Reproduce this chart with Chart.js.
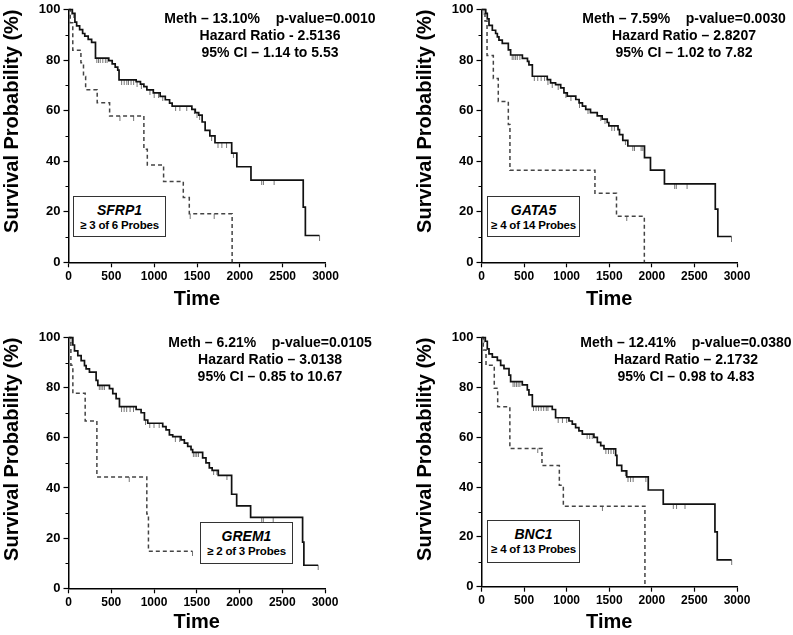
<!DOCTYPE html>
<html>
<head>
<meta charset="utf-8">
<script src="https://cdn.jsdelivr.net/npm/chart.js@4.4.0/dist/chart.umd.min.js"></script>
<style>
  body { margin: 0; width: 793px; height: 635px; overflow: hidden; background: #fff; font-family: "Liberation Sans", Arial, sans-serif; }
  canvas { position: absolute; }
  .stats { position: absolute; width: 260px; text-align: center; font-weight: bold; font-size: 14px; line-height: 17px; white-space: pre; color: #000; }
  .gene { position: absolute; width: 91px; border: 1px solid #333; background: #fff; text-align: center; font-weight: bold; color: #000; white-space: nowrap; }
  .gene i { display: block; font-size: 14px; line-height: 16px; padding-top: 5px; }
  .gene span { display: block; font-size: 11.5px; line-height: 14px; letter-spacing: -0.2px; }
</style>
</head>
<body>
<canvas id="c1" width="396" height="311" style="left:0;top:0"></canvas>
<canvas id="c2" width="380" height="311" style="left:413px;top:0"></canvas>
<canvas id="c3" width="396" height="306" style="left:0;top:328px"></canvas>
<canvas id="c4" width="380" height="306" style="left:413px;top:328px"></canvas>

<div class="stats" style="left:140px;top:10px">Meth – 13.10%    p-value=0.0010
Hazard Ratio - 2.5136
95% CI – 1.14 to 5.53</div>
<div class="stats" style="left:554px;top:10px">Meth – 7.59%    p-value=0.0030
Hazard Ratio – 2.8207
95% CI – 1.02 to 7.82</div>
<div class="stats" style="left:140px;top:334px">Meth – 6.21%    p-value=0.0105
Hazard Ratio – 3.0138
95% CI – 0.85 to 10.67</div>
<div class="stats" style="left:556px;top:334px">Meth – 12.41%    p-value=0.0380
Hazard Ratio – 2.1732
95% CI – 0.98 to 4.83</div>

<div class="gene" style="left:73px;top:196px;height:39px"><i>SFRP1</i><span>≥ 3 of 6 Probes</span></div>
<div class="gene" style="left:487px;top:196px;height:39px"><i>GATA5</i><span>≥ 4 of 14 Probes</span></div>
<div class="gene" style="left:200px;top:522px;height:40px"><i>GREM1</i><span>≥ 2 of 3 Probes</span></div>
<div class="gene" style="left:487px;top:520px;height:41px"><i>BNC1</i><span>≥ 4 of 13 Probes</span></div>

<script>
// axis ticks
const xTicks = [0, 500, 1000, 1500, 2000, 2500, 3000];
const yTicks = [0, 20, 40, 60, 80, 100];
const yMinorTicks = [10, 30, 50, 70, 90];

// Kaplan-Meier steps: [time, survival %] (last point = end of follow-up)
const sfrp1Unmeth = [[0,100],[45,98.5],[75,95],[95,93.5],[130,92],[165,90.5],[190,89.5],[230,88.2],[270,87],[315,80.8],[470,79.8],[510,78.5],[545,77.2],[575,76],[590,72.2],[790,71.5],[840,70.5],[880,69.5],[915,68.2],[990,67],[1070,65.6],[1130,64.3],[1180,63],[1210,61.8],[1440,60.5],[1480,59.2],[1520,58.2],[1560,55.5],[1595,52.2],[1650,50],[1710,47.3],[1905,43.2],[1965,37.8],[2130,32.5],[2740,21.8],[2765,10.6],[2930,10.6]];
const sfrp1Meth = [[0,100],[20,94.8],[50,83.9],[145,78.9],[175,73.5],[200,68.3],[335,63.1],[480,57.9],[880,44.7],[920,38.5],[1110,32],[1340,25.6],[1410,19.2],[1910,0]];
const sfrp1UnmethCens = [40,60,330,350,370,400,430,450,620,650,680,700,730,760,800,850,950,1000,1050,1100,1250,1300,1380,1470,1500,1530,1670,1745,1790,1845,1925,2255,2275,2400,2930];
const sfrp1MethCens = [600,760,1420,1700];

const gata5Unmeth = [[0,100],[50,98.5],[68,96.3],[88,93.7],[127,91.8],[166,90.5],[186,89.2],[205,87.9],[244,86.6],[315,84],[342,82],[480,80.7],[540,79.5],[557,78.1],[597,73.6],[772,72.3],[811,71],[870,70.3],[930,69],[968,67],[1007,65.7],[1107,64.4],[1146,63.1],[1185,61.8],[1224,60.5],[1280,59.2],[1359,57.9],[1417,56.6],[1476,55.3],[1495,54],[1603,52.5],[1620,50.5],[1659,48.2],[1718,46],[1914,41.4],[1984,36.5],[2148,31],[2745,21],[2775,10.2],[2935,10.2]];
const gata5Meth = [[0,100],[41,95.5],[65,81.8],[139,72.7],[197,63.6],[315,54.5],[334,36.4],[1332,27.3],[1585,18.2],[1912,0]];
const gata5UnmethCens = [30,360,380,400,420,450,620,660,700,740,780,830,900,990,1050,1150,1250,1400,1450,1530,1560,1690,1776,1796,1874,1894,2268,2287,2413,2935];
const gata5MethCens = [1705];

const grem1Unmeth = [[0,100],[51,97],[70,94.7],[109,92.8],[148,90.8],[187,88.8],[206,87.5],[245,86.2],[323,82.9],[343,80.9],[479,79.6],[518,77.6],[557,75.6],[596,72.4],[791,71.3],[849,70],[888,67.1],[927,65.8],[1102,64.5],[1141,63.2],[1180,61.2],[1219,60.5],[1316,59.2],[1355,57.9],[1394,56.6],[1433,55.3],[1452,54.2],[1569,52],[1608,50],[1647,48],[1680,47],[1752,45],[1908,37.5],[1967,32.9],[2130,28.3],[2738,18.4],[2753,9.2],[2920,9.2]];
const grem1Meth = [[0,100],[28,88.9],[51,77.8],[195,66.7],[332,44.4],[916,29.6],[935,14.8],[1450,14.8]];
const grem1UnmethCens = [30,360,380,400,420,620,650,680,720,760,900,950,1000,1060,1250,1300,1460,1480,1500,1520,1697,1736,1853,2259,2278,2394,2920];
const grem1MethCens = [710,1450];

const bnc1Unmeth = [[0,100],[45,98.5],[68,95.4],[88,93.4],[127,92.1],[186,90.8],[225,88.8],[264,87.5],[323,84.9],[342,82.3],[479,81],[538,79],[557,77],[597,72.4],[831,71.1],[870,67.8],[1027,66.5],[1066,65.2],[1105,63.8],[1144,62.5],[1184,61.2],[1320,59.9],[1360,57.9],[1400,56.6],[1438,55.3],[1575,52.7],[1590,48.7],[1646,46.5],[1705,44.1],[1958,38.8],[2134,33.1],[2741,22],[2768,10.8],[2937,10.8]];
const bnc1Meth = [[0,100],[21,95],[53,88.9],[150,79.6],[190,72.2],[333,55.5],[710,48.6],[914,40.7],[961,32.3],[1919,0]];
const bnc1UnmethCens = [30,370,390,410,430,450,610,640,670,700,730,760,780,900,950,1000,1240,1270,1300,1460,1490,1520,1550,1690,1720,1750,1780,1930,2252,2290,2389,2937];
const bnc1MethCens = [660,1420];

// survival value of a step curve at time t
function survAt(curve, t) {
  let s = curve[0][1];
  curve.forEach(([ti, si]) => { if (ti <= t) s = si; });
  return s;
}

// censor mark: short line hanging below the curve
function censorMark(color) {
  const c = document.createElement("canvas");
  c.width = 3;
  c.height = 10;
  const g = c.getContext("2d");
  g.strokeStyle = color;
  g.lineWidth = 1;
  g.beginPath();
  g.moveTo(1.5, 5);
  g.lineTo(1.5, 10);
  g.stroke();
  return c;
}

const minorTicks = {
  id: "minorTicks",
  afterDraw(chart) {
    const { ctx, chartArea, scales } = chart;
    ctx.save();
    ctx.strokeStyle = "#000";
    ctx.lineWidth = 1;
    yMinorTicks.forEach((v) => {
      const y = Math.round(scales.y.getPixelForValue(v)) + 0.5;
      ctx.beginPath();
      ctx.moveTo(chartArea.left - 3, y);
      ctx.lineTo(chartArea.left, y);
      ctx.stroke();
    });
    ctx.restore();
  },
};

function makePanel(id, unmeth, meth, unmethCens, methCens, box) {
  const toXY = (c) => c.map(([x, y]) => ({ x, y }));
  const cens = (curve, times) => times.map((t) => ({ x: t, y: survAt(curve, t) }));
  const font = (size) => ({ family: "'Liberation Sans', Arial, sans-serif", size, weight: "bold", lineHeight: 1 });

  new Chart(document.getElementById(id), {
    type: "line",
    data: {
      datasets: [
        { data: toXY(unmeth), stepped: true, borderColor: "#111", borderWidth: 1.7, pointRadius: 0, clip: false },
        { data: toXY(meth), stepped: true, borderColor: "#444", borderWidth: 1.5, borderDash: [4, 3], pointRadius: 0, clip: false },
        { data: cens(unmeth, unmethCens), showLine: false, pointStyle: censorMark("#777"), pointRadius: 3, clip: false },
        { data: cens(meth, methCens), showLine: false, pointStyle: censorMark("#777"), pointRadius: 3, clip: false },
      ],
    },
    options: {
      responsive: false,
      animation: false,
      events: [],
      layout: { padding: { left: 0, top: box.top, right: box.right, bottom: 0 } },
      plugins: { legend: { display: false }, tooltip: { enabled: false } },
      scales: {
        x: {
          type: "linear",
          min: 0,
          max: 3000,
          afterBuildTicks: (s) => { s.ticks = xTicks.map((v) => ({ value: v })); },
          afterFit: (s) => { s.height = box.xh; },
          ticks: { font: font(12), color: "#000", padding: 3, maxRotation: 0, callback: (v) => String(v) },
          grid: { drawOnChartArea: false, tickLength: 5, color: "#000", tickWidth: 1.2 },
          border: { color: "#000", width: 1.5 },
          title: { display: true, text: "Time", color: "#000", padding: 0, font: { family: "'Liberation Sans', Arial, sans-serif", size: 20, weight: "bold" } },
        },
        y: {
          min: 0,
          max: 100,
          afterBuildTicks: (s) => { s.ticks = yTicks.map((v) => ({ value: v })); },
          afterFit: (s) => { s.width = 68.5; },
          ticks: { font: font(13), color: "#000", padding: 3, callback: (v) => String(v) },
          grid: { drawOnChartArea: false, tickLength: 5, color: "#000", tickWidth: 1.2 },
          border: { color: "#000", width: 1.5 },
          title: { display: true, text: "Survival Probability (%)", align: "end", color: "#000", padding: 0, font: { family: "'Liberation Sans', Arial, sans-serif", size: 20, weight: "bold" } },
        },
      },
    },
    plugins: [minorTicks],
  });
}

document.addEventListener("DOMContentLoaded", () => {
  makePanel("c1", sfrp1Unmeth, sfrp1Meth, sfrp1UnmethCens, sfrp1MethCens, { top: 7.3, right: 70.5, xh: 48.7 });
  makePanel("c2", gata5Unmeth, gata5Meth, gata5UnmethCens, gata5MethCens, { top: 7.3, right: 56, xh: 48.7 });
  makePanel("c3", grem1Unmeth, grem1Meth, grem1UnmethCens, grem1MethCens, { top: 7, right: 71, xh: 45.7 });
  makePanel("c4", bnc1Unmeth, bnc1Meth, bnc1UnmethCens, bnc1MethCens, { top: 5.3, right: 56, xh: 47.3 });
});
</script>
</body>
</html>
